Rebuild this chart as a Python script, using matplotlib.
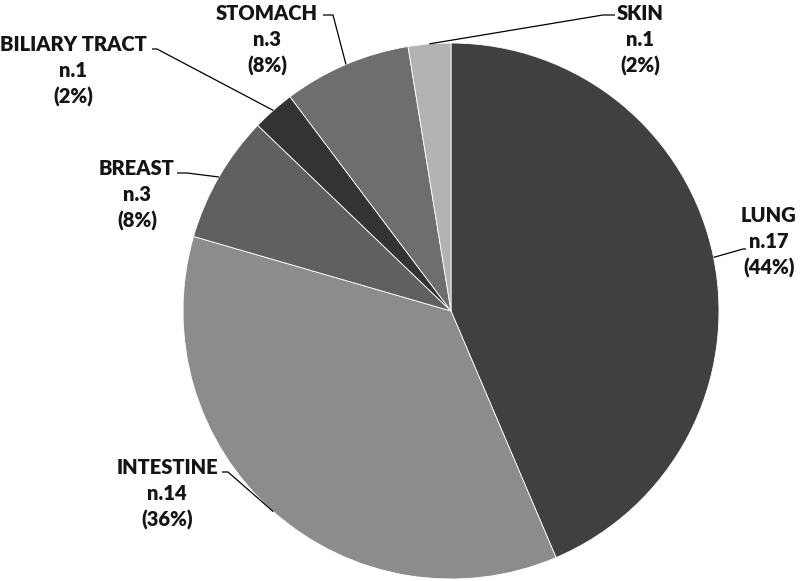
import numpy as np
import matplotlib.pyplot as plt

# data
sites = ['LUNG', 'INTESTINE', 'BREAST', 'BILIARY TRACT', 'STOMACH', 'SKIN']
counts = [17, 14, 3, 1, 3, 1]
percents = [44, 36, 8, 2, 8, 2]
colors = ['#404040', '#8c8c8c', '#606060', '#333333', '#6e6e6e', '#b3b3b3']

# layout in pixel units (y measured from top)
W, H = 800, 581
cx, cy, R = 451, 311, 268
label_pos = {
    'LUNG': (769, 242),
    'INTESTINE': (167, 494),
    'BREAST': (137, 195),
    'BILIARY TRACT': (73, 71),
    'STOMACH': (267, 40),
    'SKIN': (640, 40),
}
# leader line: (end at label, elbow)
leader = {
    'LUNG': ((746, 249), (743, 249)),
    'INTESTINE': ((222, 472), (228, 472)),
    'BREAST': ((177, 173), (187, 173)),
    'BILIARY TRACT': ((152, 49), (157, 49)),
    'STOMACH': ((323, 15), (333, 15)),
    'SKIN': ((615, 15), (603, 15)),
}

fig = plt.figure(figsize=(W / 100, H / 100), dpi=100)
ax = fig.add_axes([0, 0, 1, 1])

wedges, _ = ax.pie(counts, colors=colors, startangle=90, counterclock=False,
                   center=(cx, H - cy), radius=R, frame=True,
                   wedgeprops=dict(edgecolor='white', linewidth=0.6))
ax.set_xlim(0, W)
ax.set_ylim(0, H)
ax.set_aspect('equal')
ax.axis('off')

for w, name, n, pct in zip(wedges, sites, counts, percents):
    mid = np.deg2rad((w.theta1 + w.theta2) / 2)
    px = cx + R * np.cos(mid)
    py = (H - cy) + R * np.sin(mid)
    (ex, ey), (bx, by) = leader[name]
    ax.plot([px, bx, ex], [py, H - by, H - ey], color='black', lw=0.9,
            solid_capstyle='butt')
    lx, ly = label_pos[name]
    ax.text(lx, H - ly, f'{name}\nn.{n}\n({pct}%)', ha='center', va='center',
            fontsize=14.5, fontweight='heavy', family='Lato', linespacing=1.45,
            color='#151515')

fig.savefig('out.png', dpi=100)
